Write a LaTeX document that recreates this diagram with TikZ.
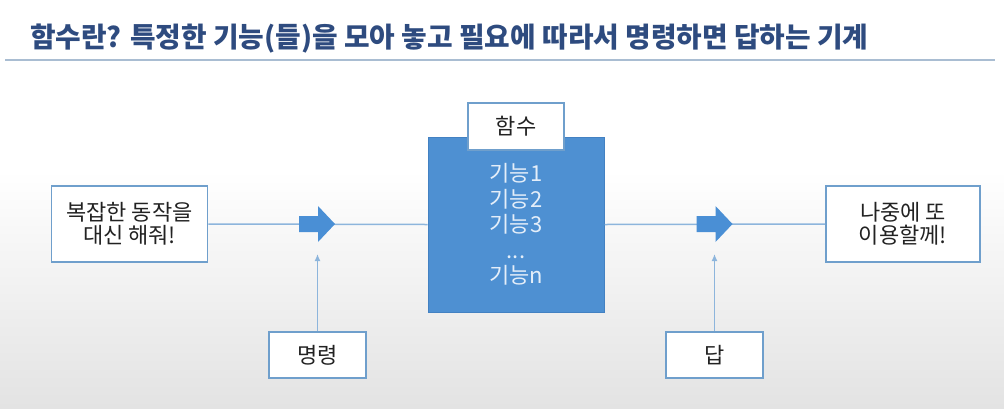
\documentclass[tikz,border=0pt]{standalone}
\usepackage{fontspec}
\setmainfont{Noto Sans CJK KR}
\usetikzlibrary{arrows.meta,calc}
\definecolor{titleblue}{HTML}{2E4B7F}
\definecolor{rulecol}{HTML}{A9BDD2}
\definecolor{boxborder}{HTML}{6F9FCC}
\definecolor{connline}{HTML}{8DB5DC}
\definecolor{arrowblue}{HTML}{4A8FD5}
\definecolor{funcfill}{HTML}{4E90D2}
\definecolor{funcborder}{HTML}{4381C2}
\definecolor{functext}{HTML}{E4EEF9}
\definecolor{textdark}{HTML}{222222}
\begin{document}
\begin{tikzpicture}[x=1pt,y=-1pt,
  plainbox/.style={draw=boxborder, line width=1.8pt, fill=white, text=textdark,
    align=center, inner sep=0pt, font=\fontsize{22}{23.5}\selectfont},
  funcbox/.style={draw=funcborder, line width=1pt, fill=funcfill, text=functext,
    align=center, inner sep=0pt, font=\fontsize{22}{25.5}\selectfont},
  conn/.style={draw=connline, line width=1.5pt},
  upconn/.style={draw=connline, line width=1.3pt, -{Latex[length=7pt,width=6pt]}},
  blockarrow/.pic={\fill[arrowblue] (-18,-8) -- (1,-8) -- (1,-18) -- (18,0) -- (1,18) -- (1,8) -- (-18,8) -- cycle;}
]
\useasboundingbox (0,0) rectangle (1004,408);
\fill[white] (0,0) rectangle (1004,408);
\shade[top color=white, bottom color=black!11] (0,170) rectangle (1004,408);

% title
\node[anchor=base west, text=titleblue, inner sep=0pt,
  font=\fontsize{27.8}{32}\selectfont\bfseries] (title) at (30,47)
  {함수란? 특정한 기능(들)을 모아 놓고 필요에 따라서 명령하면 답하는 기계};
\draw[rulecol, line width=1.2pt] (5,60) -- (995,60);

% nodes
\node[plainbox, minimum width=156, minimum height=76] (req) at (129.5,224) {복잡한 동작을\\대신 해줘!};
\node[plainbox, minimum width=154, minimum height=76] (ans) at (903,224) {나중에 또\\이용할께!};
\node[funcbox, minimum width=176, minimum height=175] (func) at (516,224.5) {기능1\\기능2\\기능3\\...\\기능n};
\node[plainbox, minimum width=96, minimum height=47] (label) at (516,126.5) {함수};
\node[plainbox, minimum width=97, minimum height=46] (cmd) at (317.5,355) {명령};
\node[plainbox, minimum width=97, minimum height=46] (reply) at (714.5,355) {답};

\coordinate (arrL) at (317,224);
\coordinate (arrR) at (714.5,224);
\coordinate (cmdtip) at (317.5,254);
\coordinate (replytip) at (714.5,254);

% connectors
\draw[conn] (req.east) -- (func.west);
\draw[conn] (func.east) -- (ans.west);
\pic at (arrL) {blockarrow};
\pic at (arrR) {blockarrow};
\draw[upconn] (cmd.north) -- (cmdtip);
\draw[upconn] (reply.north) -- (replytip);
\end{tikzpicture}
\end{document}
